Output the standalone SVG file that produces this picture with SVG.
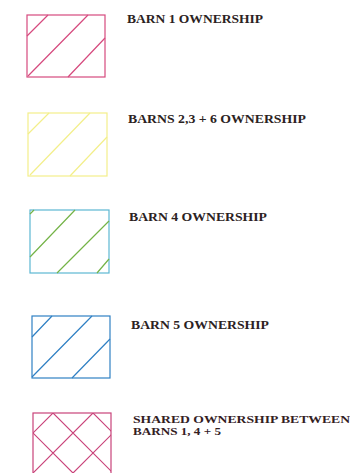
<svg xmlns="http://www.w3.org/2000/svg" width="350" height="473" viewBox="0 0 350 473">
<style>
.t{font-family:"Liberation Serif","DejaVu Serif",serif;font-weight:bold;font-size:12px;fill:#2b2222}
.s{font-size:11px;fill:#33201f}
.b{fill:none;stroke-width:1.2}
.p{stroke:#d64a7e}
.y{stroke:#f3ef8a}
.c{stroke:#5cb7d3}
.g{stroke:#74b347}
.bl{stroke:#2f80c4}
.m{stroke:#c9437a}
</style>
<defs>
<clipPath id="cp5"><rect x="33" y="413" width="78" height="60"/></clipPath>
</defs>
<rect width="350" height="473" fill="#ffffff"/>
<g id="legend1">
<rect class="b p" x="27" y="15" width="78" height="62"/>
<path class="b p" d="M27 36L48 15M28 76L88 15M68 77L105 38"/>
<text class="t" x="127" y="23" textLength="136" lengthAdjust="spacingAndGlyphs">BARN 1 OWNERSHIP</text>
</g>
<g id="legend2">
<rect class="b y" x="28" y="113" width="79" height="63"/>
<path class="b y" d="M28 134L49 113M30 175L90 113M70 176L107 137"/>
<text class="t" x="128" y="123" textLength="178" lengthAdjust="spacingAndGlyphs">BARNS 2,3 + 6 OWNERSHIP</text>
</g>
<g id="legend3">
<rect class="b c" x="30" y="210" width="79" height="63"/>
<path class="b g" d="M30 214L34 210M30 257L75 210M57 273L109 221M97 273L109 259"/>
<text class="t" x="129" y="221" textLength="138" lengthAdjust="spacingAndGlyphs">BARN 4 OWNERSHIP</text>
</g>
<g id="legend4">
<rect class="b bl" x="32" y="316" width="78" height="62"/>
<path class="b bl" d="M32 337L52 316M32 377L92 316M72 378L110 339"/>
<text class="t" x="131" y="329" textLength="138" lengthAdjust="spacingAndGlyphs">BARN 5 OWNERSHIP</text>
</g>
<g id="legend5">
<rect class="b m" x="33" y="413" width="78" height="62"/>
<g clip-path="url(#cp5)">
<path class="b m" d="M-7 393L93 493M33 393L133 493M73 393L173 493M-47 393L53 493M-27 493L73 393M13 493L113 393M53 493L153 393M93 493L193 393"/>
</g>
<text class="t s" x="133" y="423" textLength="217" lengthAdjust="spacingAndGlyphs">SHARED OWNERSHIP BETWEEN</text>
<text class="t s" x="133" y="435" textLength="88" lengthAdjust="spacingAndGlyphs">BARNS 1, 4 + 5</text>
</g>
</svg>
